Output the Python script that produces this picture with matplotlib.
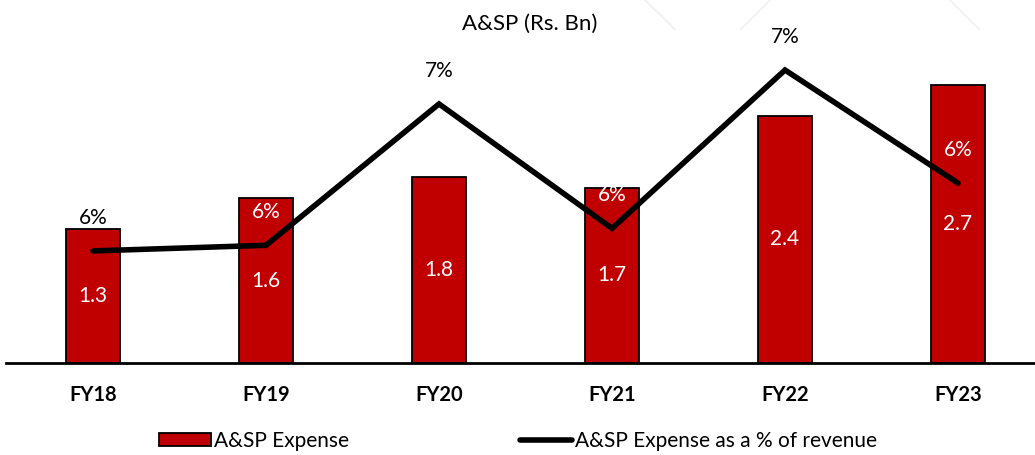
import matplotlib.pyplot as plt
from matplotlib.lines import Line2D
import numpy as np

# Datos del gráfico
anios = ['FY18', 'FY19', 'FY20', 'FY21', 'FY22', 'FY23']
gasto_asp = [1.3, 1.6, 1.8, 1.7, 2.4, 2.7]          # Rs. Bn
pct_ingresos = [5.6, 5.65, 6.9, 5.8, 7.2, 6.2]       # % de ingresos
etiquetas_pct = ['6%', '6%', '7%', '6%', '7%', '6%']

plt.rcParams['font.family'] = ['Lato', 'DejaVu Sans']

ROJO = '#C00000'
Y1 = (0, 3.23)
Y2 = (4.609, 7.554)
ALTO_EJE = 333  # px

fig = plt.figure(figsize=(10.35, 4.55), dpi=100)

# Marca de agua tenue en la parte superior
for xs in ([645, 708, 770], [950, 1012, 1075]):
    fig.add_artist(Line2D(np.array(xs) / 1035, 1 - np.array([0, 62, 0]) / 455,
                          color='#f0f0f0', lw=1.2, zorder=0))

ax = fig.add_axes([6 / 1035, 92 / 455, 1029 / 1035, ALTO_EJE / 455])
x = np.arange(len(anios))

ax.bar(x, gasto_asp, width=0.31, color=ROJO, edgecolor='black', linewidth=1.3, zorder=2)
for xi, v in zip(x, gasto_asp):
    ax.text(xi, v / 2, f'{v:.1f}', ha='center', va='center', color='white', fontsize=15, zorder=5)

ax.set_xlim(-0.503, 5.445)
ax.set_ylim(*Y1)
ax.set_yticks([])
for lado in ['top', 'right', 'left']:
    ax.spines[lado].set_visible(False)
ax.spines['bottom'].set_linewidth(2)
ax.set_xticks(x)
ax.set_xticklabels(anios, fontsize=14.5, fontweight='bold')
ax.tick_params(axis='x', length=0, pad=16)

# Eje secundario para el porcentaje
ax2 = ax.twinx()
ax2.plot(x, pct_ingresos, color='black', lw=4, solid_capstyle='round', solid_joinstyle='miter', zorder=3)
ax2.set_ylim(*Y2)
ax2.set_yticks([])
for lado in ['top', 'right', 'left', 'bottom']:
    ax2.spines[lado].set_visible(False)

desfase = 33  # px sobre el punto
for xi, p, et, v in zip(x, pct_ingresos, etiquetas_pct, gasto_asp):
    # posición de la etiqueta en unidades del eje de barras: blanco si cae dentro de la barra
    y_etiqueta = (p - Y2[0]) / (Y2[1] - Y2[0]) * Y1[1] + desfase / ALTO_EJE * Y1[1]
    color = 'white' if y_etiqueta < v else 'black'
    ax2.annotate(et, (xi, p), xytext=(0, desfase * 72 / 100), textcoords='offset points',
                 ha='center', va='center', color=color, fontsize=15, zorder=6)

fig.text(530 / 1035, 1 - 24 / 455, 'A&SP (Rs. Bn)', ha='center', va='center', fontsize=16)

handles = [plt.Rectangle((0, 0), 1, 1, facecolor=ROJO, edgecolor='black', linewidth=1.3),
           Line2D([0], [0], color='black', lw=4, solid_capstyle='round')]
fig.legend(handles, ['A&SP Expense', 'A&SP Expense as a % of revenue'],
           loc='center', bbox_to_anchor=(518 / 1035, 1 - 441 / 455), ncol=2, frameon=False,
           fontsize=15, handlelength=2.5, handleheight=0.55, handletextpad=0.15, columnspacing=8.2)

fig.savefig('out.png', dpi=100)
